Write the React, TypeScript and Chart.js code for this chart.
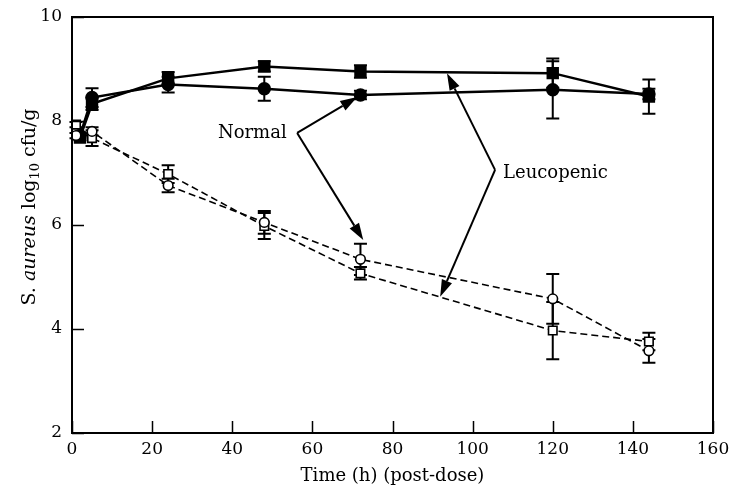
import { useEffect, useRef } from 'react';
import { Chart, registerables } from 'chart.js';

Chart.register(...registerables);

// ---- Data ----
const timesOpen = [1, 5, 24, 48, 72, 120, 144];
const timesFilled = [2, 5, 24, 48, 72, 120, 144];

const normalFilled = [7.72, 8.45, 8.7, 8.62, 8.5, 8.6, 8.52];
const normalFilledErr = [0.05, 0.18, 0.15, 0.23, 0.08, 0.55, 0.1];

const leucoFilled = [7.68, 8.33, 8.82, 9.05, 8.95, 8.92, 8.47];
const leucoFilledErr = [0.05, 0.12, 0.12, 0.1, 0.12, 0.28, 0.33];

const normalOpen = [7.72, 7.8, 6.76, 6.05, 5.34, 4.58, 3.58];
const normalOpenErr = [0.05, 0.08, 0.13, 0.22, 0.3, 0.48, 0.23];

const leucoOpen = [7.93, 7.67, 6.98, 5.98, 5.07, 3.97, 3.76];
const leucoOpenErr = [0.05, 0.15, 0.17, 0.25, 0.12, 0.55, 0.17];

const xTicks = [0, 20, 40, 60, 80, 100, 120, 140, 160];
const yTicks = [2, 4, 6, 8, 10];

const xTitle = 'Time (h) (post-dose)';

// annotation anchors (data coordinates)
const normalText = { label: 'Normal', x: 45, y: 7.77 };
const normalVertex = { x: 56.2, y: 7.77 };
const normalTips = [
  { x: 71.2, y: 8.46 },
  { x: 72.7, y: 5.71 },
];
const leucoText = { label: 'Leucopenic', x: 107.6, y: 7.0 };
const leucoVertex = { x: 105.6, y: 7.06 };
const leucoTips = [
  { x: 93.6, y: 8.92 },
  { x: 91.9, y: 4.62 },
];

const FONT = '"DejaVu Serif", "Liberation Serif", serif';

const toPts = (xs: number[], ys: number[]) => xs.map((x, i) => ({ x, y: ys[i] }));

const errorSets = [
  { xs: timesFilled, ys: normalFilled, es: normalFilledErr },
  { xs: timesFilled, ys: leucoFilled, es: leucoFilledErr },
  { xs: timesOpen, ys: normalOpen, es: normalOpenErr },
  { xs: timesOpen, ys: leucoOpen, es: leucoOpenErr },
];

function arrow(ctx: CanvasRenderingContext2D, x0: number, y0: number, x1: number, y1: number) {
  const ang = Math.atan2(y1 - y0, x1 - x0);
  const len = 17;
  const hw = 5.5;
  const bx = x1 - Math.cos(ang) * len;
  const by = y1 - Math.sin(ang) * len;
  ctx.beginPath();
  ctx.moveTo(x0, y0);
  ctx.lineTo(bx, by);
  ctx.stroke();
  ctx.beginPath();
  ctx.moveTo(x1, y1);
  ctx.lineTo(bx - Math.sin(ang) * hw, by + Math.cos(ang) * hw);
  ctx.lineTo(bx + Math.sin(ang) * hw, by - Math.cos(ang) * hw);
  ctx.closePath();
  ctx.fill();
}

const customPlugin = {
  id: 'customDraw',
  beforeDatasetsDraw(chart: any) {
    const ctx = chart.ctx;
    const xs = chart.scales.x;
    const ys = chart.scales.y;
    ctx.save();
    ctx.strokeStyle = '#000';
    ctx.lineWidth = 2;
    errorSets.forEach((s) => {
      s.xs.forEach((t, i) => {
        const px = xs.getPixelForValue(t);
        const yTop = ys.getPixelForValue(s.ys[i] + s.es[i]);
        const yBot = ys.getPixelForValue(s.ys[i] - s.es[i]);
        ctx.beginPath();
        ctx.moveTo(px, yTop);
        ctx.lineTo(px, yBot);
        ctx.moveTo(px - 6.5, yTop);
        ctx.lineTo(px + 6.5, yTop);
        ctx.moveTo(px - 6.5, yBot);
        ctx.lineTo(px + 6.5, yBot);
        ctx.stroke();
      });
    });
    ctx.restore();
  },
  afterDraw(chart: any) {
    const ctx = chart.ctx;
    const a = chart.chartArea;
    const xs = chart.scales.x;
    const ys = chart.scales.y;
    ctx.save();
    ctx.strokeStyle = '#000';
    ctx.fillStyle = '#000';
    // frame
    ctx.lineWidth = 2;
    ctx.strokeRect(a.left, a.top, a.right - a.left, a.bottom - a.top);
    // inward ticks
    ctx.lineWidth = 1.5;
    ctx.beginPath();
    xTicks.forEach((t) => {
      const px = Math.round(xs.getPixelForValue(t)) + 0.5;
      ctx.moveTo(px, a.bottom);
      ctx.lineTo(px, a.bottom - 12);
    });
    yTicks.forEach((v) => {
      const py = Math.round(ys.getPixelForValue(v)) + 0.5;
      ctx.moveTo(a.left, py);
      ctx.lineTo(a.left + 12, py);
    });
    ctx.stroke();

    // x title
    ctx.font = `18px ${FONT}`;
    ctx.textAlign = 'center';
    ctx.textBaseline = 'middle';
    ctx.fillText(xTitle, (a.left + a.right) / 2, 476);

    // y title (rich text, rotated)
    const parts = [
      { t: 'S. ', f: `19px ${FONT}`, dy: 0 },
      { t: 'aureus', f: `italic 19px ${FONT}`, dy: 0 },
      { t: ' log', f: `19px ${FONT}`, dy: 0 },
      { t: '10', f: `13px ${FONT}`, dy: 6 },
      { t: ' cfu/g', f: `19px ${FONT}`, dy: 0 },
    ];
    let total = 0;
    parts.forEach((p) => {
      ctx.font = p.f;
      total += ctx.measureText(p.t).width;
    });
    ctx.translate(30, 207);
    ctx.rotate(-Math.PI / 2);
    ctx.textAlign = 'left';
    ctx.textBaseline = 'middle';
    let cx = -total / 2;
    parts.forEach((p) => {
      ctx.font = p.f;
      ctx.fillText(p.t, cx, p.dy);
      cx += ctx.measureText(p.t).width;
    });
    ctx.setTransform(1, 0, 0, 1, 0, 0);

    // annotations
    ctx.font = `18px ${FONT}`;
    ctx.textBaseline = 'middle';
    ctx.textAlign = 'center';
    ctx.fillText(normalText.label, xs.getPixelForValue(normalText.x), ys.getPixelForValue(normalText.y));
    ctx.textAlign = 'left';
    ctx.fillText(leucoText.label, xs.getPixelForValue(leucoText.x), ys.getPixelForValue(leucoText.y));

    ctx.lineWidth = 2;
    const nvx = xs.getPixelForValue(normalVertex.x);
    const nvy = ys.getPixelForValue(normalVertex.y);
    normalTips.forEach((p) => arrow(ctx, nvx, nvy, xs.getPixelForValue(p.x), ys.getPixelForValue(p.y)));
    const lvx = xs.getPixelForValue(leucoVertex.x);
    const lvy = ys.getPixelForValue(leucoVertex.y);
    leucoTips.forEach((p) => arrow(ctx, lvx, lvy, xs.getPixelForValue(p.x), ys.getPixelForValue(p.y)));
    ctx.restore();
  },
};

export default function App() {
  const ref = useRef<HTMLCanvasElement | null>(null);
  useEffect(() => {
    if (!ref.current) return;
    const chart = new Chart(ref.current, {
      type: 'scatter',
      data: {
        datasets: [
          {
            label: 'Normal (treated)',
            data: toPts(timesOpen, normalOpen),
            showLine: true,
            borderColor: '#000',
            borderWidth: 1.6,
            borderDash: [7, 4],
            pointStyle: 'circle',
            pointRadius: 4.8,
            pointBackgroundColor: '#fff',
            pointBorderColor: '#000',
            pointBorderWidth: 1.6,
          },
          {
            label: 'Leucopenic (treated)',
            data: toPts(timesOpen, leucoOpen),
            showLine: true,
            borderColor: '#000',
            borderWidth: 1.6,
            borderDash: [7, 4],
            pointStyle: 'rect',
            pointRadius: 6,
            pointBackgroundColor: '#fff',
            pointBorderColor: '#000',
            pointBorderWidth: 1.6,
          },
          {
            label: 'Normal (control)',
            data: toPts(timesFilled, normalFilled),
            showLine: true,
            borderColor: '#000',
            borderWidth: 2.5,
            pointStyle: 'circle',
            pointRadius: 5.5,
            pointBackgroundColor: '#000',
            pointBorderColor: '#000',
          },
          {
            label: 'Leucopenic (control)',
            data: toPts(timesFilled, leucoFilled),
            showLine: true,
            borderColor: '#000',
            borderWidth: 2.5,
            pointStyle: 'rect',
            pointRadius: 7,
            pointBackgroundColor: '#000',
            pointBorderColor: '#000',
          },
        ],
      },
      options: {
        animation: false,
        responsive: false,
        devicePixelRatio: 1,
        layout: { padding: { top: 17, right: 19, bottom: 0, left: 0 } },
        plugins: { legend: { display: false }, tooltip: { enabled: false } },
        scales: {
          x: {
            type: 'linear',
            min: 0,
            max: 160,
            grid: { display: false, drawTicks: false },
            border: { display: false },
            afterBuildTicks: (s: any) => {
              s.ticks = xTicks.map((v) => ({ value: v }));
            },
            afterFit: (s: any) => {
              s.height = 61;
              s.paddingRight = 0;
              s.paddingLeft = 0;
            },
            ticks: {
              color: '#000',
              padding: 6,
              maxRotation: 0,
              font: { family: FONT, size: 17 },
            },
          },
          y: {
            type: 'linear',
            min: 2,
            max: 10,
            grid: { display: false, drawTicks: false },
            border: { display: false },
            afterBuildTicks: (s: any) => {
              s.ticks = yTicks.map((v) => ({ value: v }));
            },
            afterFit: (s: any) => {
              s.width = 72;
              s.paddingTop = 0;
              s.paddingBottom = 0;
            },
            ticks: {
              color: '#000',
              padding: 10,
              font: { family: FONT, size: 17 },
            },
          },
        },
      },
      plugins: [customPlugin],
    });
    return () => chart.destroy();
  }, []);
  return (
    <div style={{ position: 'fixed', left: 0, top: 0, width: 732, height: 494, background: '#fff' }}>
      <canvas ref={ref} width={732} height={494} style={{ width: 732, height: 494 }} />
    </div>
  );
}
